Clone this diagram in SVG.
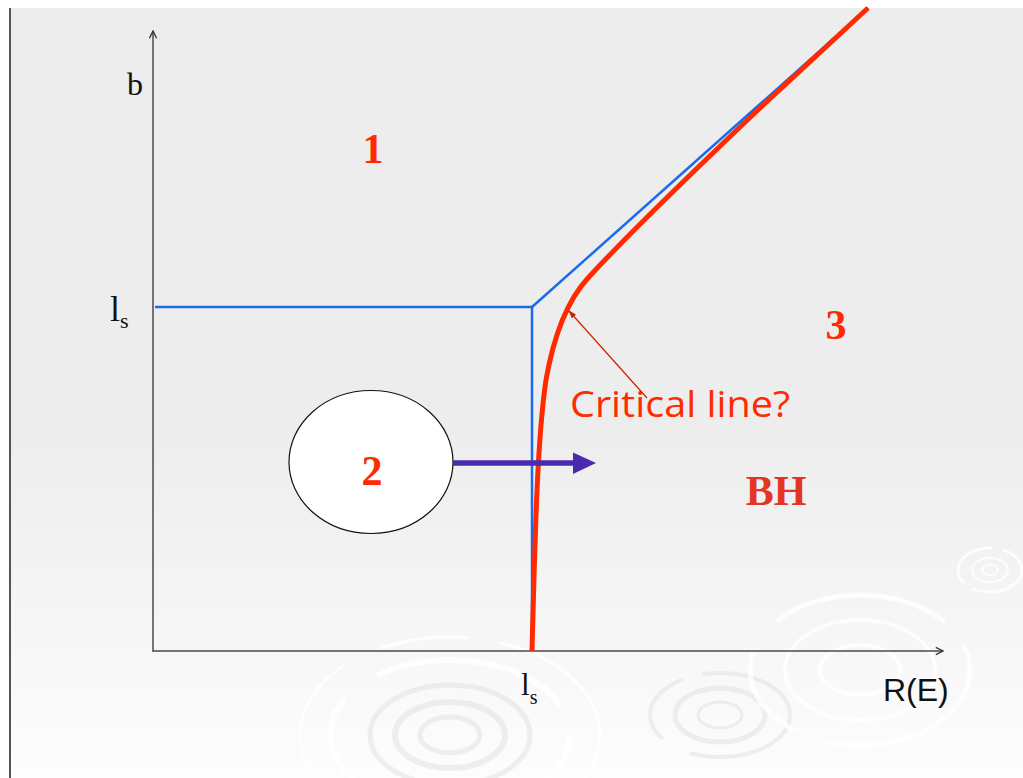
<svg xmlns="http://www.w3.org/2000/svg" width="1023" height="778" viewBox="0 0 1023 778">
  <style>
    .axis { stroke: #4a4a4a; stroke-width: 1.5; fill: none; }
    .serif { font-family: "Liberation Serif", "Times New Roman", serif; fill: #111; }
    .num { font-family: "Liberation Serif", "Times New Roman", serif; font-weight: bold; fill: #ff2a00; font-size: 42px; text-anchor: middle; }
    .ripple { fill: none; stroke: #ffffff; stroke-opacity: 0.8; }
    .ripple2 { fill: none; stroke: #e0e0e0; stroke-opacity: 0.5; }
  </style>
  <defs>
    <linearGradient id="bg" x1="0" y1="0" x2="0" y2="1">
      <stop offset="0" stop-color="#ededed"/>
      <stop offset="0.55" stop-color="#ededed"/>
      <stop offset="1" stop-color="#fdfdfd"/>
    </linearGradient>
    <marker id="axhead" viewBox="0 0 10 10" refX="9" refY="5" markerWidth="6" markerHeight="6" orient="auto">
      <path d="M1,1 L9,5 L1,9" fill="none" stroke="#333" stroke-width="1.5"/>
    </marker>
    <marker id="thinred" viewBox="0 0 10 10" refX="9" refY="5" markerWidth="7" markerHeight="7" orient="auto">
      <path d="M0,1.5 L10,5 L0,8.5 Z" fill="#cc2200"/>
    </marker>
  </defs>

  <!-- background -->
  <rect x="0" y="0" width="1023" height="778" fill="#ffffff"/>
  <rect x="10" y="8" width="1013" height="770" fill="url(#bg)"/>
  <line x1="10" y1="8" x2="10" y2="778" stroke="#555" stroke-width="2"/>

  <g id="ripples">
    <g transform="translate(450,735)">
      <ellipse rx="120" ry="75" class="ripple" stroke-width="6" stroke-dasharray="200 30 120 40"/>
      <ellipse rx="80" ry="50" class="ripple2" stroke-width="5"/>
      <ellipse rx="55" ry="33" class="ripple2" stroke-width="6"/>
      <ellipse rx="30" ry="18" class="ripple2" stroke-width="5"/>
      <ellipse rx="150" ry="98" class="ripple" stroke-width="3" stroke-dasharray="160 40 90 30"/>
    </g>
    <g transform="translate(720,715)">
      <ellipse rx="70" ry="42" class="ripple2" stroke-width="4" stroke-dasharray="120 30 80 20"/>
      <ellipse rx="45" ry="27" class="ripple2" stroke-width="5"/>
      <ellipse rx="22" ry="13" class="ripple2" stroke-width="3"/>
    </g>
    <g transform="translate(860,670)">
      <ellipse rx="110" ry="75" class="ripple" stroke-width="5" stroke-dasharray="180 30 100 40"/>
      <ellipse rx="75" ry="50" class="ripple" stroke-width="4"/>
      <ellipse rx="40" ry="25" class="ripple" stroke-width="4"/>
    </g>
    <g transform="translate(990,570)">
      <ellipse rx="32" ry="22" class="ripple" stroke-width="3" stroke-dasharray="60 10"/>
      <ellipse rx="18" ry="12" class="ripple" stroke-width="2"/>
      <ellipse rx="8" ry="5" class="ripple" stroke-width="2"/>
    </g>
  </g>

  <g id="axes">
    <line class="axis" x1="153" y1="652" x2="153" y2="31" marker-end="url(#axhead)"/>
    <line class="axis" x1="153" y1="651" x2="943" y2="651" marker-end="url(#axhead)"/>
    <text class="serif" x="127" y="95" font-size="32">b</text>
    <text class="serif" x="110" y="321" font-size="36">l<tspan font-size="22" dy="7">s</tspan></text>
    <text class="serif" x="521" y="695" font-size="31">l<tspan font-size="20" dy="9">s</tspan></text>
    <text x="883" y="701" font-family="Liberation Sans, Arial, sans-serif" font-size="32" fill="#111">R(E)</text>
  </g>

  <g id="boundary">
    <polyline points="155,307 532,307 532,651" fill="none" stroke="#1a6bf0" stroke-width="2.5"/>
    <line x1="532" y1="307" x2="868" y2="8" stroke="#1a6bf0" stroke-width="2.5"/>
  </g>

  <g id="critical-curve">
    <path d="M532,651 C535,540 537,440 546,380 C553,340 565,303 588,278 C620,243 700,165 760,108 L868,8" fill="none" stroke="#ff2a00" stroke-width="5"/>
  </g>

  <g id="region-1"><text class="num" x="373" y="163">1</text></g>
  <g id="region-3"><text class="num" x="836" y="339">3</text></g>
  <g id="region-bh"><text class="num" x="776" y="505" style="fill:#e33424">BH</text></g>

  <g id="region-2">
    <ellipse cx="371" cy="462" rx="82" ry="71.5" fill="#ffffff" stroke="#111" stroke-width="1.2"/>
    <text class="num" x="372" y="485">2</text>
  </g>

  <g id="critical-label">
    <text x="570" y="417" font-family="Open Sans, Liberation Sans, sans-serif" font-size="37" fill="#ff2a00" textLength="220" lengthAdjust="spacingAndGlyphs">Critical line?</text>
  </g>

  <g id="connectors">
    <line x1="647" y1="398" x2="569" y2="311" stroke="#cc2200" stroke-width="1.2" marker-end="url(#thinred)"/>
    <line x1="453" y1="463" x2="576" y2="463" stroke="#4a2bb0" stroke-width="5.5"/>
    <polygon points="573,452.5 596,463 573,474" fill="#4a2bb0"/>
  </g>
</svg>
